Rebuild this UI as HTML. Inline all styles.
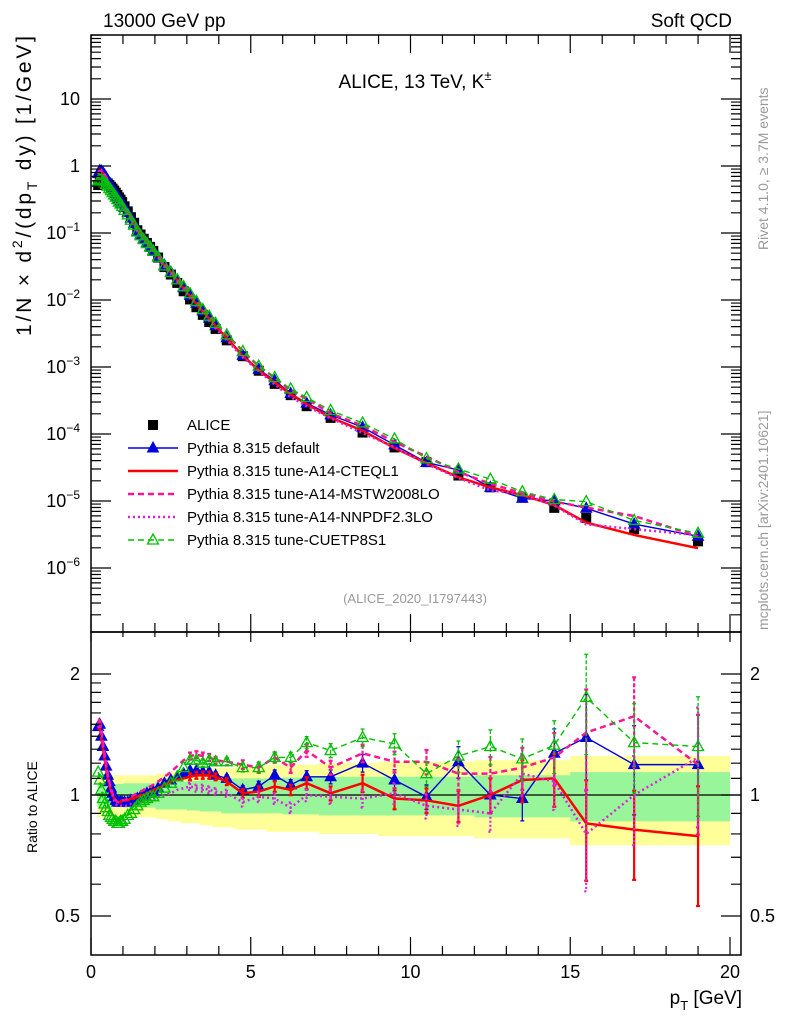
<!DOCTYPE html>
<html><head><meta charset="utf-8"><style>
html,body{margin:0;padding:0;background:#fff;}
svg{display:block;font-family:"Liberation Sans",sans-serif;}
</style></head><body>
<svg id="c" width="786" height="1024" viewBox="0 0 786 1024" xmlns="http://www.w3.org/2000/svg">
<defs>
<clipPath id="ct"><rect x="91" y="35" width="650" height="597"/></clipPath>
<clipPath id="cb"><rect x="91" y="632" width="650" height="323"/></clipPath>
</defs>
<g id="bands" clip-path="url(#cb)"></g>
<g id="plot"></g>
<text x="103" y="27" font-size="19">13000 GeV pp</text>
<text x="732" y="27" font-size="19" text-anchor="end">Soft QCD</text>
<text x="415" y="88" font-size="19" text-anchor="middle">ALICE, 13 TeV, K<tspan font-size="13" dy="-8">±</tspan></text>
<text x="415" y="603" font-size="13" fill="#999" text-anchor="middle">(ALICE_2020_I1797443)</text>
<text transform="translate(768,250) rotate(-90)" font-size="14" fill="#999">Rivet 4.1.0, ≥ 3.7M events</text>
<text transform="translate(768,630) rotate(-90)" font-size="14" fill="#999">mcplots.cern.ch [arXiv:2401.10621]</text>
<text transform="translate(31,336) rotate(-90)" font-size="21" textLength="300" lengthAdjust="spacing">1/N × d<tspan font-size="14" dy="-9">2</tspan><tspan dy="9">/(dp</tspan><tspan font-size="14" dy="6">T</tspan><tspan dy="-6"> dy) [1/GeV]</tspan></text>
<text transform="translate(37,853) rotate(-90)" font-size="14">Ratio to ALICE</text>
<text x="742" y="1004" font-size="19" text-anchor="end">p<tspan font-size="13" dy="6">T</tspan><tspan dy="-6"> [GeV]</tspan></text>
<g id="legend"></g>
</svg>
<script>
const pt=[0.225,0.275,0.325,0.375,0.425,0.475,0.525,0.575,0.625,0.675,0.725,0.775,0.825,0.875,0.925,0.975,1.05,1.15,1.25,1.35,1.45,1.55,1.65,1.75,1.85,1.95,2.1,2.3,2.5,2.7,2.9,3.1,3.3,3.5,3.7,3.9,4.25,4.75,5.25,5.75,6.25,6.75,7.5,8.5,9.5,10.5,11.5,12.5,13.5,14.5,15.5,17,19];
const alice=[0.52,0.57,0.60,0.60,0.59,0.57,0.55,0.52,0.49,0.46,0.43,0.40,0.37,0.34,0.315,0.29,0.25,0.21,0.172,0.142,0.11,0.095,0.082,0.071,0.062,0.054,0.043,0.031,0.024,0.018,0.0135,0.0102,0.0078,0.0060,0.0047,0.0037,0.0025,0.00145,8.8e-4,5.6e-4,3.8e-4,2.6e-4,1.74e-4,1.05e-4,6.3e-5,3.8e-5,2.4e-5,1.6e-5,1.12e-5,7.9e-6,5.6e-6,3.8e-6,2.5e-6];
const rDefault=[1.48,1.50,1.40,1.32,1.25,1.18,1.12,1.08,1.04,1.01,0.99,0.97,0.96,0.96,0.96,0.96,0.96,0.96,0.97,0.97,0.98,0.99,1.00,1.01,1.01,1.02,1.04,1.07,1.09,1.11,1.13,1.15,1.15,1.14,1.14,1.12,1.10,1.03,1.05,1.12,1.06,1.11,1.11,1.20,1.09,0.99,1.21,1.00,0.98,1.27,1.39,1.19,1.19];
const rCteq=[1.45,1.48,1.38,1.30,1.23,1.16,1.10,1.06,1.02,1.00,0.98,0.97,0.96,0.96,0.96,0.97,0.97,0.97,0.98,0.98,0.99,1.00,1.00,1.01,1.02,1.03,1.04,1.06,1.08,1.09,1.10,1.11,1.12,1.12,1.12,1.11,1.08,1.01,1.02,1.05,1.03,1.07,1.01,1.07,0.98,0.97,0.94,1.00,1.09,1.10,0.85,0.82,0.79];
const rMstw=[1.50,1.56,1.45,1.35,1.27,1.20,1.13,1.08,1.04,1.01,0.98,0.97,0.96,0.96,0.96,0.97,0.97,0.98,0.99,1.00,1.01,1.02,1.03,1.04,1.05,1.06,1.08,1.11,1.14,1.18,1.22,1.25,1.26,1.25,1.24,1.22,1.21,1.19,1.17,1.24,1.17,1.29,1.17,1.27,1.21,1.21,1.13,1.13,1.17,1.24,1.43,1.57,1.19];
const rNnpdf=[1.47,1.52,1.42,1.33,1.25,1.18,1.12,1.07,1.03,1.00,0.97,0.95,0.94,0.94,0.94,0.94,0.94,0.94,0.95,0.95,0.96,0.96,0.97,0.97,0.98,0.98,0.99,1.00,1.01,1.03,1.04,1.05,1.04,1.04,1.03,1.02,1.01,0.96,0.99,0.98,0.93,1.00,0.99,0.98,1.01,0.94,0.92,0.90,1.13,1.08,0.80,1.00,1.24];
const rCuet=[1.14,1.09,1.03,0.98,0.95,0.93,0.91,0.89,0.88,0.87,0.86,0.86,0.85,0.85,0.86,0.86,0.87,0.89,0.90,0.92,0.94,0.96,0.97,0.98,0.99,0.99,1.01,1.04,1.07,1.11,1.17,1.22,1.22,1.20,1.22,1.21,1.21,1.17,1.17,1.24,1.24,1.35,1.29,1.39,1.34,1.13,1.25,1.32,1.23,1.33,1.75,1.35,1.32];
const mcErr=[0.01,0.01,0.01,0.01,0.01,0.01,0.01,0.01,0.01,0.01,0.01,0.01,0.01,0.01,0.01,0.01,0.01,0.01,0.01,0.01,0.01,0.01,0.01,0.01,0.01,0.01,0.01,0.01,0.01,0.01,0.015,0.02,0.02,0.02,0.02,0.02,0.02,0.025,0.03,0.03,0.03,0.035,0.04,0.05,0.06,0.07,0.09,0.1,0.12,0.15,0.28,0.25,0.33];
const yBand=[0.12,0.12,0.12,0.12,0.12,0.12,0.12,0.12,0.12,0.12,0.12,0.12,0.12,0.12,0.12,0.12,0.12,0.12,0.12,0.12,0.12,0.12,0.12,0.12,0.12,0.12,0.13,0.13,0.14,0.14,0.15,0.15,0.15,0.16,0.16,0.17,0.17,0.18,0.18,0.19,0.19,0.19,0.2,0.2,0.21,0.21,0.21,0.22,0.22,0.22,0.25,0.25,0.25];
const gBand=[0.065,0.065,0.065,0.065,0.065,0.065,0.065,0.065,0.065,0.065,0.065,0.065,0.065,0.065,0.065,0.065,0.07,0.07,0.07,0.07,0.07,0.07,0.07,0.07,0.07,0.07,0.08,0.08,0.08,0.08,0.08,0.085,0.085,0.09,0.09,0.09,0.1,0.1,0.1,0.1,0.105,0.105,0.11,0.11,0.11,0.11,0.11,0.12,0.12,0.12,0.14,0.14,0.14];
const xTicks=["0","5","10","15","20"];
const ratioTicks=["0.5","1","2"];

const NS="http://www.w3.org/2000/svg";
const X=v=>91+31.95*v;
const YT=v=>166-67*Math.log10(v);
const YR=r=>795-121*Math.log2(r);
function el(tag,attrs,parent){const e=document.createElementNS(NS,tag);for(const k in attrs)e.setAttribute(k,attrs[k]);parent.appendChild(e);return e;}
const plot=document.getElementById('plot');
const bandG=document.getElementById('bands');

const edges=[0.2];
for(let i=0;i<pt.length-1;i++)edges.push((pt[i]+pt[i+1])/2);
edges.push(20);
function bandPath(w){let top='',bot='';
 for(let i=0;i<pt.length;i++){top+=(i?'L':'M')+X(edges[i])+' '+YR(1+w[i])+'L'+X(edges[i+1])+' '+YR(1+w[i]);}
 for(let i=pt.length-1;i>=0;i--){bot+='L'+X(edges[i+1])+' '+YR(1-w[i])+'L'+X(edges[i])+' '+YR(1-w[i]);}
 return top+bot+'Z';}
const yb=el('path',{d:bandPath(yBand),fill:'#ffff99'},bandG);


const gb=el('path',{d:bandPath(gBand),fill:'#99f599'},bandG);


const one=el('line',{x1:91,x2:741,y1:YR(1),y2:YR(1),stroke:'#000','stroke-width':1.2},bandG);



const series=[
 {name:'default',r:rDefault,color:'#0000dd',w:1.4,dash:'',marker:'tri'},
 {name:'cteq',r:rCteq,color:'#ff0000',w:2.5,dash:'',marker:''},
 {name:'mstw',r:rMstw,color:'#ff1493',w:2.5,dash:'6,4',marker:''},
 {name:'nnpdf',r:rNnpdf,color:'#e020e0',w:2.5,dash:'2,3',marker:''},
 {name:'cuet',r:rCuet,color:'#00c000',w:1.4,dash:'6,4',marker:'otri'}
];
const topG=el('g',{'clip-path':'url(#ct)'},plot);
const botG=el('g',{'clip-path':'url(#cb)'},plot);
for(let i=0;i<pt.length;i++){
 const s=el('rect',{x:X(pt[i])-5,y:YT(alice[i])-5,width:10,height:10,fill:'#000'},topG);
 
 
}
function tri(g,x,y,c,open){const p=el('path',{d:`M${x} ${y-6}L${x+5.5} ${y+4}L${x-5.5} ${y+4}Z`,fill:open?'none':c,stroke:c,'stroke-width':open?1.3:1},g);return p;}
series.forEach(s=>{
 const ptsT=pt.map((p,i)=>X(p)+','+YT(alice[i]*s.r[i])).join(' ');
 const lt=el('polyline',{points:ptsT,fill:'none',stroke:s.color,'stroke-width':s.w,'stroke-dasharray':s.dash},topG);
 
 
 const ptsB=pt.map((p,i)=>X(p)+','+YR(s.r[i])).join(' ');
 const lb=el('polyline',{points:ptsB,fill:'none',stroke:s.color,'stroke-width':s.w,'stroke-dasharray':s.dash},botG);
 
 
 for(let i=0;i<pt.length;i++){
  const x=X(pt[i]);const r=s.r[i];const e=mcErr[i]*r;
  if(mcErr[i]>0.015){
   const y1=YR(r+e),y2=YR(Math.max(r-e,0.05));
   const eb=el('path',{d:`M${x} ${y1}L${x} ${y2}M${x-2} ${y1}L${x+2} ${y1}M${x-2} ${y2}L${x+2} ${y2}`,stroke:s.color,'stroke-width':s.w>2?2.2:1.3,'stroke-dasharray':s.dash?(s.dash=='2,3'?'2,2':'4,2'):''},botG);
   
   
  }
  if(s.marker){
   const m1=tri(topG,x,YT(alice[i]*r),s.color,s.marker=='otri');
   
   
   const m2=tri(botG,x,YR(r),s.color,s.marker=='otri');
   
   
  }
 }
});

const f1=el('rect',{x:91,y:35,width:650,height:597,fill:'none',stroke:'#000','stroke-width':1.5},plot);


const f2=el('rect',{x:91,y:632,width:650,height:323,fill:'none',stroke:'#000','stroke-width':1.5},plot);


let tk='';
for(let v=0;v<=20.5;v+=1){const x=X(v);const L=(v%5==0)?18:9;
 tk+=`M${x} 955L${x} ${955-L}M${x} 632L${x} ${632-L}M${x} 632L${x} ${632+L*0.55}M${x} 35L${x} ${35+L}`;}
for(let d=-7;d<=1;d++){for(let m=1;m<=9;m++){const v=m*Math.pow(10,d);const y=YT(v);if(y<35||y>632)continue;const L=m==1?20:10;
 tk+=`M91 ${y}L${91+L} ${y}M741 ${y}L${741-L} ${y}`;}}
[0.5,0.6,0.7,0.8,0.9,1,1.1,1.2,1.3,1.4,1.5,1.6,1.7,1.8,1.9,2].forEach(r=>{const y=YR(r);const L=(r==0.5||r==1||r==2)?20:10;
 tk+=`M91 ${y}L${91+L} ${y}M741 ${y}L${741-L} ${y}`;});
const tp=el('path',{d:tk,stroke:'#000','stroke-width':1.2,fill:'none'},plot);


xTicks.forEach((t,i)=>{const tx=el('text',{x:X(i*5),y:978,'font-size':18,'text-anchor':'middle'},plot);tx.textContent=t;
 
 });
const yexp=[1,0,-1,-2,-3,-4,-5,-6];
yexp.forEach(d=>{const y=YT(Math.pow(10,d))+6;const t=el('text',{x:80,y:y,'font-size':18,'text-anchor':'end'},plot);
 if(d==1)t.textContent='10';else if(d==0)t.textContent='1';else{t.textContent='10';const s=el('tspan',{'font-size':12,dy:-8},t);s.textContent=String(d).replace('-','−');}
 
 });
ratioTicks.forEach(t=>{const r=parseFloat(t);const y=YR(r)+6;
 const a=el('text',{x:80,y:y,'font-size':18,'text-anchor':'end'},plot);a.textContent=t;
 
 
 const b=el('text',{x:750,y:y,'font-size':18},plot);b.textContent=t;
 
 });

const lg=document.getElementById('legend');
const items=[
 {t:'ALICE',c:'#000',m:'sq'},
 {t:'Pythia 8.315 default',c:'#0000dd',w:1.4,d:'',m:'tri'},
 {t:'Pythia 8.315 tune-A14-CTEQL1',c:'#ff0000',w:2.5,d:''},
 {t:'Pythia 8.315 tune-A14-MSTW2008LO',c:'#ff1493',w:2.5,d:'6,4'},
 {t:'Pythia 8.315 tune-A14-NNPDF2.3LO',c:'#e020e0',w:2.5,d:'2,3'},
 {t:'Pythia 8.315 tune-CUETP8S1',c:'#00c000',w:1.4,d:'6,4',m:'otri'}
];
items.forEach((it,i)=>{const y=425+i*23;const g=el('g',{},lg);
 
 
 if(it.m=='sq'){el('rect',{x:148,y:y-5,width:10,height:10,fill:'#000'},g);}
 else{el('line',{x1:128,x2:178,y1:y,y2:y,stroke:it.c,'stroke-width':it.w,'stroke-dasharray':it.d},g);
  if(it.m)tri(g,153,y,it.c,it.m=='otri');}
 const t=el('text',{x:187,y:y+5,'font-size':15},g);t.textContent=it.t;});
</script>
</body></html>
